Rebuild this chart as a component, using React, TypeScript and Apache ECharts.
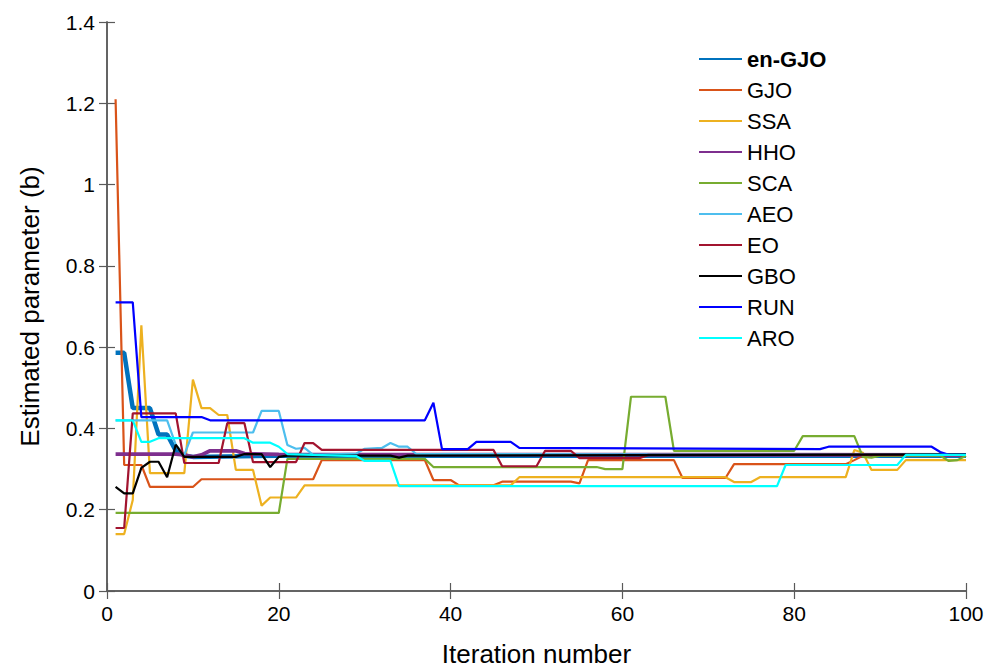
import React, { useEffect, useRef } from "react";
import * as echarts from "echarts";

const seriesNames = ["en-GJO", "GJO", "SSA", "HHO", "SCA", "AEO", "EO", "GBO", "RUN", "ARO"];
const colors = ["#0072BD", "#D95319", "#EDB120", "#7E2F8E", "#77AC30", "#4DBEEE", "#A2142F", "#000000", "#0000FF", "#00FFFF"];
const widths = [4.5, 2.2, 2.2, 3.8, 2.2, 2.2, 2.2, 2.2, 2.2, 2.2];

const enGJO = [[1,0.586],[2,0.586],[3,0.45],[4,0.45],[5,0.45],[6,0.385],[7,0.385],[8,0.345],[9,0.333],[10,0.33],[20,0.333],[100,0.333]];
const GJO = [[1,1.21],[2,0.31],[3,0.31],[4,0.31],[5,0.256],[10,0.256],[11,0.275],[24,0.275],[25,0.322],[37,0.322],[38,0.273],[40,0.273],[41,0.26],[45,0.26],[46,0.269],[54,0.269],[55,0.265],[56,0.322],[66,0.322],[67,0.278],[72,0.278],[73,0.312],[86,0.312],[87,0.322],[88,0.333],[100,0.333]];
const SSA = [[1,0.14],[2,0.14],[3,0.224],[4,0.654],[5,0.29],[9,0.29],[10,0.52],[11,0.45],[12,0.45],[13,0.433],[14,0.433],[15,0.298],[17,0.298],[18,0.21],[19,0.23],[22,0.23],[23,0.26],[47,0.26],[48,0.28],[72,0.28],[73,0.268],[75,0.268],[76,0.28],[86,0.28],[87,0.347],[88,0.34],[89,0.298],[92,0.298],[93,0.322],[100,0.322]];
const HHO = [[1,0.337],[8,0.337],[9,0.335],[10,0.33],[11,0.335],[12,0.345],[15,0.345],[16,0.338],[20,0.336],[100,0.335]];
const SCA = [[1,0.192],[20,0.192],[21,0.325],[37,0.325],[38,0.305],[57,0.305],[58,0.3],[60,0.3],[61,0.478],[65,0.478],[66,0.345],[80,0.345],[81,0.381],[87,0.381],[88,0.33],[89,0.328],[90,0.333],[97,0.333],[98,0.32],[99,0.322],[100,0.333]];
const AEO = [[1,0.42],[7,0.42],[8,0.36],[9,0.335],[10,0.39],[17,0.39],[18,0.443],[20,0.443],[21,0.359],[22,0.35],[23,0.352],[24,0.335],[29,0.338],[30,0.35],[32,0.352],[33,0.364],[34,0.355],[35,0.355],[36,0.337],[100,0.335]];
const EO = [[1,0.155],[2,0.155],[3,0.437],[8,0.437],[9,0.315],[13,0.315],[14,0.413],[16,0.413],[17,0.317],[22,0.317],[23,0.364],[24,0.364],[25,0.347],[45,0.347],[46,0.307],[50,0.307],[51,0.345],[54,0.345],[55,0.327],[62,0.327],[63,0.335],[100,0.335]];
const GBO = [[1,0.256],[2,0.24],[3,0.24],[4,0.303],[5,0.318],[6,0.318],[7,0.28],[8,0.36],[9,0.33],[15,0.33],[16,0.337],[18,0.337],[19,0.305],[20,0.33],[21,0.333],[33,0.333],[34,0.328],[35,0.333],[100,0.336]];
const RUN = [[1,0.71],[3,0.71],[4,0.428],[11,0.428],[12,0.42],[37,0.42],[38,0.463],[39,0.349],[42,0.349],[43,0.367],[47,0.367],[48,0.352],[83,0.349],[84,0.355],[96,0.355],[97,0.342],[98,0.335],[100,0.335]];
const ARO = [[1,0.42],[3,0.42],[4,0.367],[5,0.367],[6,0.376],[16,0.376],[17,0.365],[19,0.365],[20,0.355],[21,0.337],[29,0.332],[30,0.32],[33,0.32],[34,0.258],[78,0.258],[79,0.31],[92,0.31],[93,0.335],[100,0.335]];

const allData = [enGJO, GJO, SSA, HHO, SCA, AEO, EO, GBO, RUN, ARO];

const FONT = "Liberation Sans, Arial, Helvetica, sans-serif";
const AXIS_COLOR = "#5a5a5a";

export default function App() {
  const ref = useRef<HTMLDivElement>(null);
  useEffect(() => {
    if (!ref.current) return;
    const chart = echarts.init(ref.current, undefined, { renderer: "svg" });
    const axisCommon = {
      axisLine: { show: true, lineStyle: { color: AXIS_COLOR, width: 1.5 } },
      axisTick: { show: true, inside: true, length: 8, lineStyle: { color: AXIS_COLOR, width: 1.2 } },
      splitLine: { show: false },
    };
    chart.setOption({
      animation: false,
      backgroundColor: "#ffffff",
      grid: { left: 107, right: 37, top: 22, bottom: 81, containLabel: false },
      legend: {
        orient: "vertical",
        left: 693,
        top: 43,
        itemWidth: 43,
        itemHeight: 14,
        itemGap: 9,
        itemStyle: { opacity: 0, borderWidth: 0 },
        data: seriesNames,
        textStyle: {
          fontFamily: FONT,
          fontSize: 22,
          color: "#000",
          lineHeight: 22,
          rich: { b: { fontWeight: "bold", fontSize: 22, fontFamily: FONT, color: "#000" } },
        },
        formatter: (name: string) => (name === "en-GJO" ? `{b|${name}}` : name),
      },
      xAxis: [
        {
          type: "value",
          min: 0,
          max: 100,
          interval: 20,
          name: "Iteration number",
          nameLocation: "middle",
          nameGap: 50,
          nameTextStyle: { fontFamily: FONT, fontSize: 26, color: "#000" },
          axisLabel: { fontFamily: FONT, fontSize: 21, color: "#000", margin: 12 },
          ...axisCommon,
        },
        {
          type: "value",
          position: "top",
          min: 0,
          max: 100,
          interval: 20,
          axisLabel: { show: false },
          ...axisCommon,
        },
      ],
      yAxis: [
        {
          type: "value",
          min: 0,
          max: 1.4,
          interval: 0.2,
          name: "Estimated parameter (b)",
          nameLocation: "middle",
          nameGap: 64,
          nameTextStyle: { fontFamily: FONT, fontSize: 26, color: "#000" },
          axisLabel: { fontFamily: FONT, fontSize: 21, color: "#000", margin: 12 },
          ...axisCommon,
        },
        {
          type: "value",
          position: "right",
          min: 0,
          max: 1.4,
          interval: 0.2,
          axisLabel: { show: false },
          ...axisCommon,
        },
      ],
      series: seriesNames.map((name, i) => ({
        name,
        type: "line",
        data: allData[i],
        symbol: "none",
        showSymbol: false,
        color: colors[i],
        lineStyle: { color: colors[i], width: widths[i] },
        z: 2,
      })),
    });
    return () => chart.dispose();
  }, []);
  return <div ref={ref} style={{ width: 1003, height: 672, position: "absolute", left: 0, top: 0 }} />;
}
